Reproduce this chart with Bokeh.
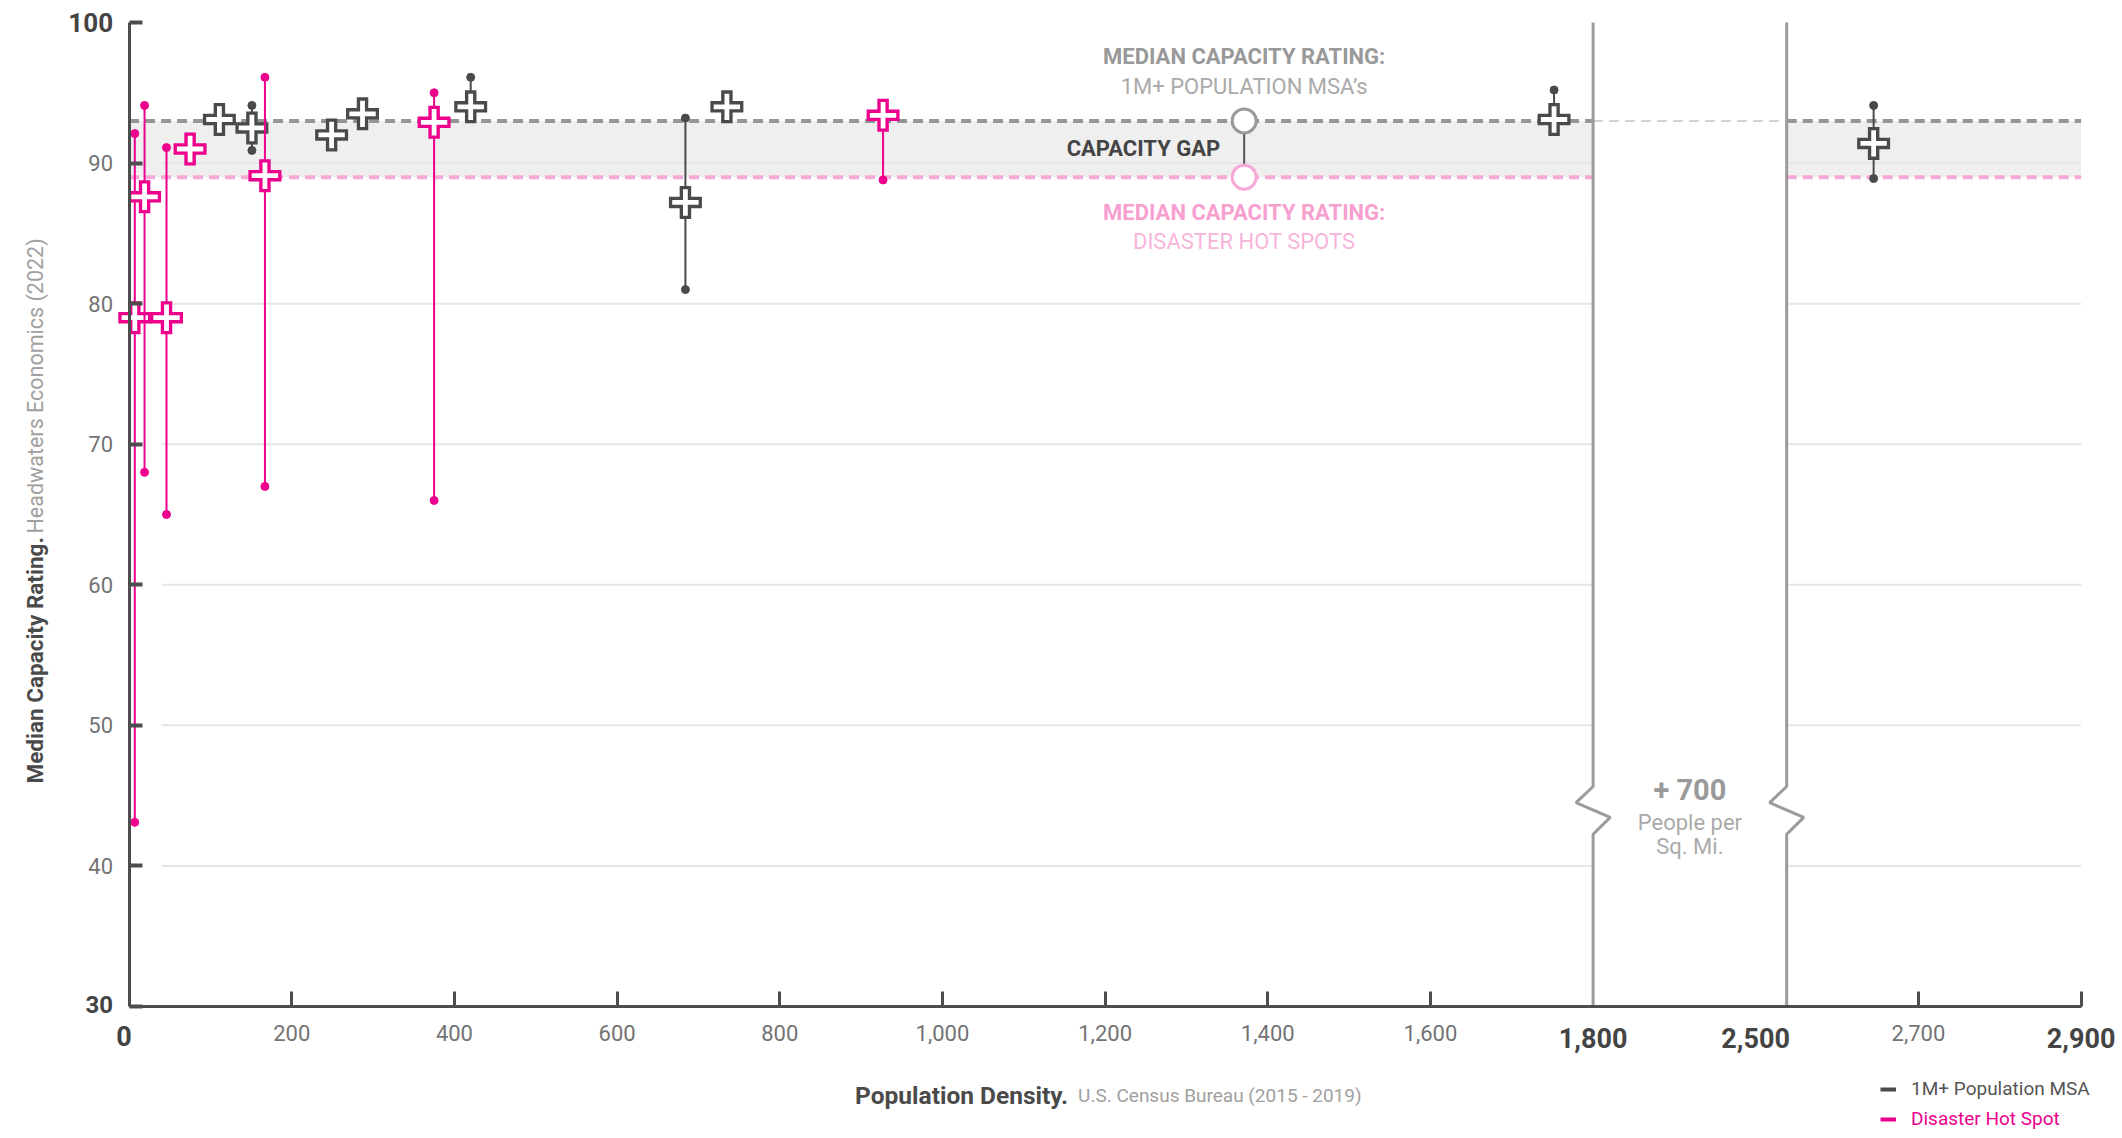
import math
import numpy as np
from bokeh.plotting import figure
from bokeh.models import Range1d, Label, Legend, LegendItem, FixedTicker, ColumnDataSource, LinearAxis
from bokeh.embed import file_html
from bokeh.resources import INLINE

# ---------------- data ----------------
MSA_DENSITY = [111, 151, 249, 287, 420, 684, 735, 1752, 2632]
MSA_MEDIAN  = [93.1, 92.5, 92.0, 93.5, 94.0, 87.2, 94.0, 93.1, 91.4]
MSA_HIGH    = [93.1, 94.1, 92.0, 93.5, 96.1, 93.2, 94.0, 95.2, 94.1]
MSA_LOW     = [93.1, 90.9, 92.0, 93.5, 94.0, 81.0, 94.0, 93.1, 88.9]

HOT_DENSITY = [7, 19, 46, 75, 167, 375, 927]
HOT_MEDIAN  = [79.0, 87.6, 79.0, 91.0, 89.1, 92.9, 93.4]
HOT_HIGH    = [92.1, 94.1, 91.1, 91.0, 96.1, 95.0, 93.4]
HOT_LOW     = [43.1, 68.0, 65.0, 91.0, 67.0, 66.0, 88.8]

MEDIAN_MSA = 93.0
MEDIAN_HOT = 89.0

Y_TICKS = [30, 40, 50, 60, 70, 80, 90, 100]
Y_BOLD = [30, 100]
GRID_Y = [40, 50, 60, 70, 80, 90]
X_TICKS = [200, 400, 600, 800, 1000, 1200, 1400, 1600, 2700, 2900]
X_BOLD = [0, 1800, 2500, 2900]

# broken axis: real density -> position on the drawn axis
BREAK_REAL = [0, 1800, 2500, 2700, 2900]
BREAK_AXIS = [0, 1800, 2038, 2200, 2400]
GAP_START, GAP_END = 1800, 2500
ANNOT_DENSITY = 1371


def ax(v):
    return float(np.interp(v, BREAK_REAL, BREAK_AXIS))


# ---------------- style ----------------
FONT = "Roboto"
DARK = "#4a4a4a"
MAGENTA = "#ec008c"
PINK = "#f8a8d6"
GREY_MED = "#959595"
AXIS_C = "#4d4d4d"

X_MAX = ax(2900)
W, H = 2122, 1138
X0_PX, Y30_PX, Y100_PX = 128.6, 1006.0, 22.0
XS = 1952.0 / X_MAX
YS = (Y30_PX - Y100_PX) / 70.0

p = figure(width=W, height=H,
           x_range=Range1d(-X0_PX / XS, (W - X0_PX) / XS),
           y_range=Range1d(30 - (H - Y30_PX) / YS, 100 + Y100_PX / YS),
           output_backend="svg", toolbar_location=None,
           x_axis_location=None, y_axis_location=None)
p.min_border_left = p.min_border_right = p.min_border_top = p.min_border_bottom = 0
p.outline_line_color = None
p.background_fill_color = "white"
p.border_fill_color = "white"
p.xgrid.visible = False
p.ygrid.visible = False

# axes fixed at the data origin
yaxis = LinearAxis(fixed_location=0, bounds=(30, 100))
xaxis = LinearAxis(fixed_location=30, bounds=(0, X_MAX))
p.add_layout(yaxis, "left")
p.add_layout(xaxis, "below")
yaxis.ticker = FixedTicker(ticks=Y_TICKS)
yaxis.major_label_overrides = {t: ("" if t in Y_BOLD else str(t)) for t in Y_TICKS}
xt = [int(round(ax(t))) for t in X_TICKS]
xaxis.ticker = FixedTicker(ticks=xt)
xaxis.major_label_overrides = {int(round(ax(t))): ("" if t in X_BOLD else f"{t:,}") for t in X_TICKS}
for a in (xaxis, yaxis):
    a.axis_line_color = AXIS_C
    a.axis_line_width = 3
    a.major_tick_line_color = AXIS_C
    a.major_tick_line_width = 4
    a.major_tick_out = 0
    a.minor_tick_line_color = None
    a.major_label_text_font = FONT
    a.major_label_text_font_size = "22px"
    a.major_label_text_color = "#737373"
yaxis.major_tick_in = 13
xaxis.major_tick_in = 15
xaxis.major_tick_line_width = 3
yaxis.major_label_standoff = 16
xaxis.major_label_standoff = 18

gs, ge = ax(GAP_START), ax(GAP_END)

# band between medians
p.quad(left=[0], right=[X_MAX], bottom=[MEDIAN_HOT], top=[MEDIAN_MSA], fill_color="#efefef", line_color=None)
# grid
p.segment(x0=[40] * len(GRID_Y), x1=[X_MAX] * len(GRID_Y), y0=GRID_Y, y1=GRID_Y, line_color="#e6e6e6", line_width=2)
# gap
p.quad(left=[gs], right=[ge], bottom=[30], top=[100], fill_color="white", line_color=None)
# medians
p.segment(x0=[0, ge], x1=[gs, X_MAX], y0=[MEDIAN_MSA] * 2, y1=[MEDIAN_MSA] * 2,
          line_color=GREY_MED, line_width=4, line_dash="10 6")
p.segment(x0=[0, ge], x1=[gs, X_MAX], y0=[MEDIAN_HOT] * 2, y1=[MEDIAN_HOT] * 2,
          line_color=PINK, line_width=4, line_dash="10 6")
p.segment(x0=[gs], x1=[ge], y0=[MEDIAN_MSA], y1=[MEDIAN_MSA], line_color="#c4c4c4", line_width=1.5, line_dash="10 6")

# break lines with zig-zag
ZIG_DX = [0, -21, 21, 0]
ZIG_Y = [45.65, 44.5, 43.45, 42.25]
for b in (gs, ge):
    p.line(x=[b] + [b + d for d in ZIG_DX] + [b], y=[100] + ZIG_Y + [30],
           line_color="#9b9b9b", line_width=3)


def draw_series(xs, med, hi, lo, color):
    for x, m, h, l in zip(xs, med, hi, lo):
        src = ColumnDataSource(dict(x=[ax(x)], m=[m], h=[h], l=[l]))
        p.segment(x0="x", x1="x", y0="l", y1="h", source=src, line_color=color, line_width=2)
        p.scatter(x="x", y="h", source=src, size=8, color=color)
        p.scatter(x="x", y="l", source=src, size=8, color=color)
        p.scatter(x="x", y="m", source=src, marker="cross", size=33, line_color=color, line_width=11.5)
        p.scatter(x="x", y="m", source=src, marker="cross", size=26.4, line_color="white", line_width=4.8)


draw_series(MSA_DENSITY, MSA_MEDIAN, MSA_HIGH, MSA_LOW, DARK)
draw_series(HOT_DENSITY, HOT_MEDIAN, HOT_HIGH, HOT_LOW, MAGENTA)

# median annotation
p.segment(x0=[ANNOT_DENSITY], x1=[ANNOT_DENSITY], y0=[MEDIAN_HOT], y1=[MEDIAN_MSA], line_color="#555555", line_width=2)
p.scatter(x=[ANNOT_DENSITY], y=[MEDIAN_MSA], size=24, fill_color="white", line_color="#9a9a9a", line_width=3)
p.scatter(x=[ANNOT_DENSITY], y=[MEDIAN_HOT], size=24, fill_color="white", line_color=PINK, line_width=3)


def lab(text, x, y, dx=0, dy=0, size="22px", color="#444", style="normal", align="center",
        baseline="middle", angle=0):
    p.add_layout(Label(x=x, y=y, x_offset=dx, y_offset=dy, text=text, text_font=FONT,
                       text_font_size=size, text_color=color, text_font_style=style,
                       text_align=align, text_baseline=baseline, angle=angle))


lab("MEDIAN CAPACITY RATING:", ANNOT_DENSITY, MEDIAN_MSA, dy=64, size="22px", color="#999999", style="bold")
lab("1M+ POPULATION MSA\u2019s", ANNOT_DENSITY, MEDIAN_MSA, dy=34, size="22px", color="#aaaaaa")
lab("CAPACITY GAP", ANNOT_DENSITY, MEDIAN_MSA, dx=-24, dy=-28, size="22px", color="#444444", style="bold", align="right")
lab("MEDIAN CAPACITY RATING:", ANNOT_DENSITY, MEDIAN_HOT, dy=-35, size="22px", color="#f7a0cf", style="bold")
lab("DISASTER HOT SPOTS", ANNOT_DENSITY, MEDIAN_HOT, dy=-64, size="22px", color="#f8b4da")

# gap annotation
gm = (gs + ge) / 2
lab("+ 700", gm, 30, dy=217, size="29px", color="#9a9a9a", style="bold")
lab("People per", gm, 30, dy=184, size="22px", color="#aaaaaa")
lab("Sq. Mi.", gm, 30, dy=160, size="22px", color="#aaaaaa")

# bold tick labels
lab("100", 0, 100, dx=-16, size="26px", color="#444", style="bold", align="right")
lab("30", 0, 30, dx=-16, dy=2, size="24px", color="#444", style="bold", align="right")
lab("0", 0, 30, dx=-5, dy=-29, size="27px", color="#444", style="bold")
lab("1,800", ax(1800), 30, dy=-31, size="27px", color="#444", style="bold")
lab("2,500", ax(2500), 30, dx=-31, dy=-31, size="27px", color="#444", style="bold")
lab("2,900", ax(2900), 30, dy=-31, size="27px", color="#444", style="bold")

# axis titles
lab("Median Capacity Rating.", 0, 30, dx=-94, dy=223, size="22.5px", color="#4a4a4a", style="bold",
    align="left", angle=math.pi / 2)
lab("Headwaters Economics  (2022)", 0, 30, dx=-94, dy=473, size="21.5px", color="#a0a0a0",
    align="left", angle=math.pi / 2)
lab("Population Density.", 0, 30, dx=726, dy=-89, size="24.5px", color="#4a4a4a", style="bold", align="left")
lab("U.S. Census Bureau  (2015 - 2019)", 0, 30, dx=949, dy=-89, size="19px", color="#a0a0a0", align="left")

# legend (renderers hold one undrawn NaN point so that their legend glyphs render)
r1 = p.line(x=[float("nan")], y=[float("nan")], line_color=DARK, line_width=4)
r2 = p.line(x=[float("nan")], y=[float("nan")], line_color=MAGENTA, line_width=4)
for r, name, col, yy in ((r1, "1M+ Population MSA", "#555555", 38), (r2, "Disaster Hot Spot", MAGENTA, 8)):
    leg = Legend(items=[LegendItem(label=name, renderers=[r])], location=(1880, yy),
                 border_line_color=None, background_fill_alpha=0, padding=0, margin=0,
                 glyph_width=16, glyph_height=20, label_height=20, label_standoff=15,
                 label_text_font=FONT, label_text_font_size="19px", label_text_color=col)
    p.add_layout(leg)

open("out.html", "w").write(file_html(p, INLINE))
